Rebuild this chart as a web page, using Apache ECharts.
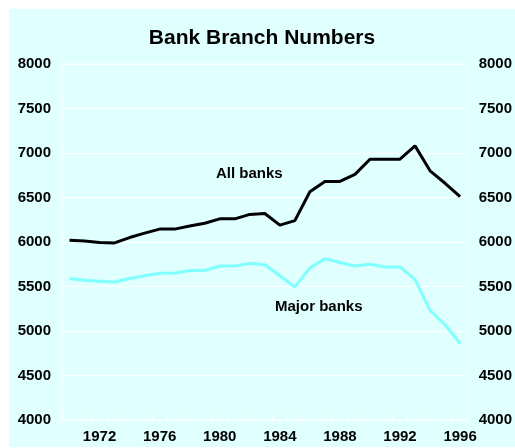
<!DOCTYPE html>
<html>
<head>
<meta charset="utf-8">
<script src="https://cdn.jsdelivr.net/npm/echarts@6/dist/echarts.min.js"></script>
<style>
html,body{margin:0;padding:0;background:#ffffff;width:515px;height:448px;overflow:hidden;}
#chart{position:absolute;left:9px;top:9px;width:506px;height:438px;}
</style>
</head>
<body>
<div id="chart"></div>
<script>
var years = ['1970','1971','1972','1973','1974','1975','1976','1977','1978','1979','1980','1981','1982','1983','1984','1985','1986','1987','1988','1989','1990','1991','1992','1993','1994','1995','1996'];
var allBanks = [6020,6010,5995,5990,6050,6100,6145,6145,6180,6210,6260,6260,6310,6320,6190,6240,6565,6680,6680,6760,6930,6930,6930,7080,6800,6660,6510];
var majorBanks = [5590,5570,5560,5550,5590,5620,5650,5650,5680,5680,5730,5730,5760,5745,5620,5495,5710,5810,5770,5730,5750,5720,5720,5580,5230,5070,4860];
var seriesNames = ['All banks','Major banks'];
var titleText = 'Bank Branch Numbers';

var font = '"Liberation Sans", Arial, Helvetica, sans-serif';
var chart = echarts.init(document.getElementById('chart'), null, {renderer:'canvas'});
var yAxisCommon = {
  type:'value', min:4000, max:8000, interval:500,
  axisLine:{show:false}, axisTick:{show:false},
  axisLabel:{color:'#000', fontWeight:'bold', fontSize:15, fontFamily:font, margin:11, formatter:function(v){return String(v);}}
};
chart.setOption({
  backgroundColor:'#e0ffff',
  animation:false,
  title:{text:titleText, left:'center', top:14, textStyle:{fontSize:21, fontWeight:'bold', color:'#000', fontFamily:font}},
  grid:{left:53, right:46, top:55, bottom:27, show:true, borderColor:'#ffffff', borderWidth:1, backgroundColor:'transparent'},
  xAxis:{
    type:'category', data:years, boundaryGap:true,
    axisLine:{show:true, lineStyle:{color:'#ffffff', width:1}},
    axisTick:{show:true, inside:true, length:7, interval:0, lineStyle:{color:'#ffffff', width:1}},
    axisLabel:{interval:function(i){return (i-2)%4===0;}, color:'#000', fontWeight:'bold', fontSize:15, fontFamily:font, margin:9},
    splitLine:{show:false}
  },
  yAxis:[
    Object.assign({}, yAxisCommon, {position:'left', splitLine:{show:true, lineStyle:{color:'#ffffff', width:1}}}),
    Object.assign({}, yAxisCommon, {position:'right', splitLine:{show:false}})
  ],
  series:[
    {name:seriesNames[0], type:'line', data:allBanks, symbol:'none', lineStyle:{color:'#000000', width:3}, z:3},
    {name:seriesNames[1], type:'line', data:majorBanks, symbol:'none', lineStyle:{color:'#80ffff', width:3}, z:2}
  ],
  graphic:[
    {type:'text', left:207, top:157, style:{text:seriesNames[0], fill:'#000', font:'bold 15px ' + font}},
    {type:'text', left:266, top:290, style:{text:seriesNames[1], fill:'#000', font:'bold 15px ' + font}}
  ]
});
</script>
</body>
</html>
